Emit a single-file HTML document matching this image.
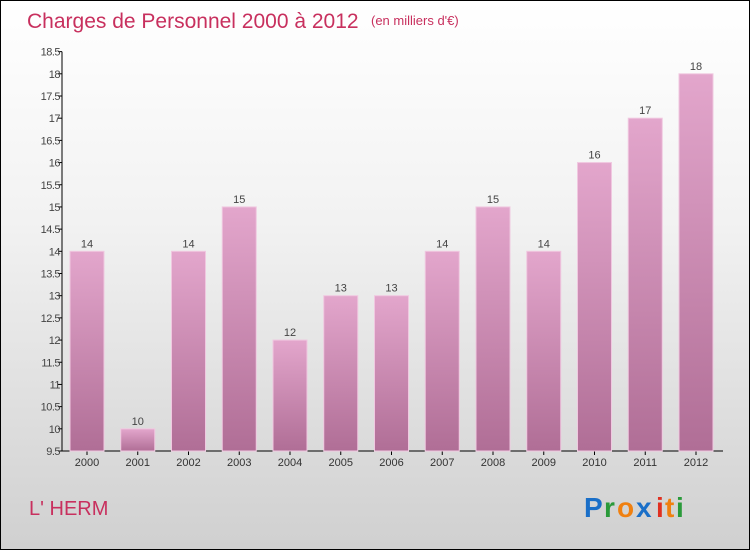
<!DOCTYPE html>
<html><head><meta charset="utf-8"><style>
body{margin:0;}
#c{width:750px;height:550px;position:relative;overflow:hidden;box-sizing:border-box;border:1px solid #000;background:linear-gradient(#ffffff 0%,#f2f2f2 40%,#d0d0d0 100%);font-family:"Liberation Sans",sans-serif;}
</style></head><body>
<div id="c">
<svg width="750" height="550" style="position:absolute;left:0;top:0">
<defs><linearGradient id="bg" x1="0" y1="0" x2="0" y2="1"><stop offset="0" stop-color="#e3a6cc"/><stop offset="1" stop-color="#b06e96"/></linearGradient></defs>
<text x="26" y="27" font-size="21" fill="#c8305e">Charges de Personnel 2000 à 2012</text>
<text x="370" y="24" font-size="13" fill="#c8305e">(en milliers d'€)</text>
<g id="axes"></g><g id="bars"></g>
<text x="28" y="514" font-size="20" fill="#c8305e">L' HERM</text>
<g font-size="28" font-weight="bold" font-family="'Liberation Sans',sans-serif">
<text x="583" y="516" fill="#1a6fc8">P</text><text x="603" y="516" fill="#2a9a3a">r</text><text x="616" y="516" fill="#f08010">o</text><text x="635" y="516" fill="#1a6fc8">x</text><text x="655" y="516" fill="#e03020">i</text><text x="664" y="516" fill="#f08010">t</text><text x="675" y="516" fill="#2a9a3a">i</text>
</g>
</svg></div>
<script>
const categories=["2000","2001","2002","2003","2004","2005","2006","2007","2008","2009","2010","2011","2012"];
const values=[14,10,14,15,12,13,13,14,15,14,16,17,18];
const yTicks=[9.5,10,10.5,11,11.5,12,12.5,13,13.5,14,14.5,15,15.5,16,16.5,17,17.5,18,18.5];
const NS="http://www.w3.org/2000/svg";
const y=v=>450-(v-9.5)*44.375;
const x=i=>86+i*50.75;
const ax=document.getElementById('axes'),bg=document.getElementById('bars');
function mk(t,a,p){const e=document.createElementNS(NS,t);for(const k in a)e.setAttribute(k,a[k]);p.appendChild(e);return e;}
let l=mk('line',{x1:61,y1:y(18.5),x2:61,y2:450,stroke:'#000'},ax);


l=mk('line',{x1:61,y1:450,x2:722,y2:450,stroke:'#000'},ax);


yTicks.forEach(v=>{mk('line',{x1:57,x2:61,y1:y(v),y2:y(v),stroke:'#000'},ax);
const t=mk('text',{x:59,y:y(v)+4,'font-size':11,'text-anchor':'end',fill:'#444','letter-spacing':'-0.5'},ax);t.textContent=v;

});
categories.forEach((c,i)=>{
const r=mk('rect',{x:x(i)-17,y:y(values[i]),width:34,height:450-y(values[i]),fill:'url(#bg)',stroke:'#f0c8e0','stroke-width':1},bg);


const t=mk('text',{x:x(i),y:y(values[i])-4,'font-size':11,'text-anchor':'middle',fill:'#444'},bg);t.textContent=values[i];


mk('line',{x1:x(i),x2:x(i),y1:450,y2:454,stroke:'#000'},ax);
const tx=mk('text',{x:x(i),y:465,'font-size':11,'text-anchor':'middle',fill:'#333'},ax);tx.textContent=c;


});
</script>
</body></html>
